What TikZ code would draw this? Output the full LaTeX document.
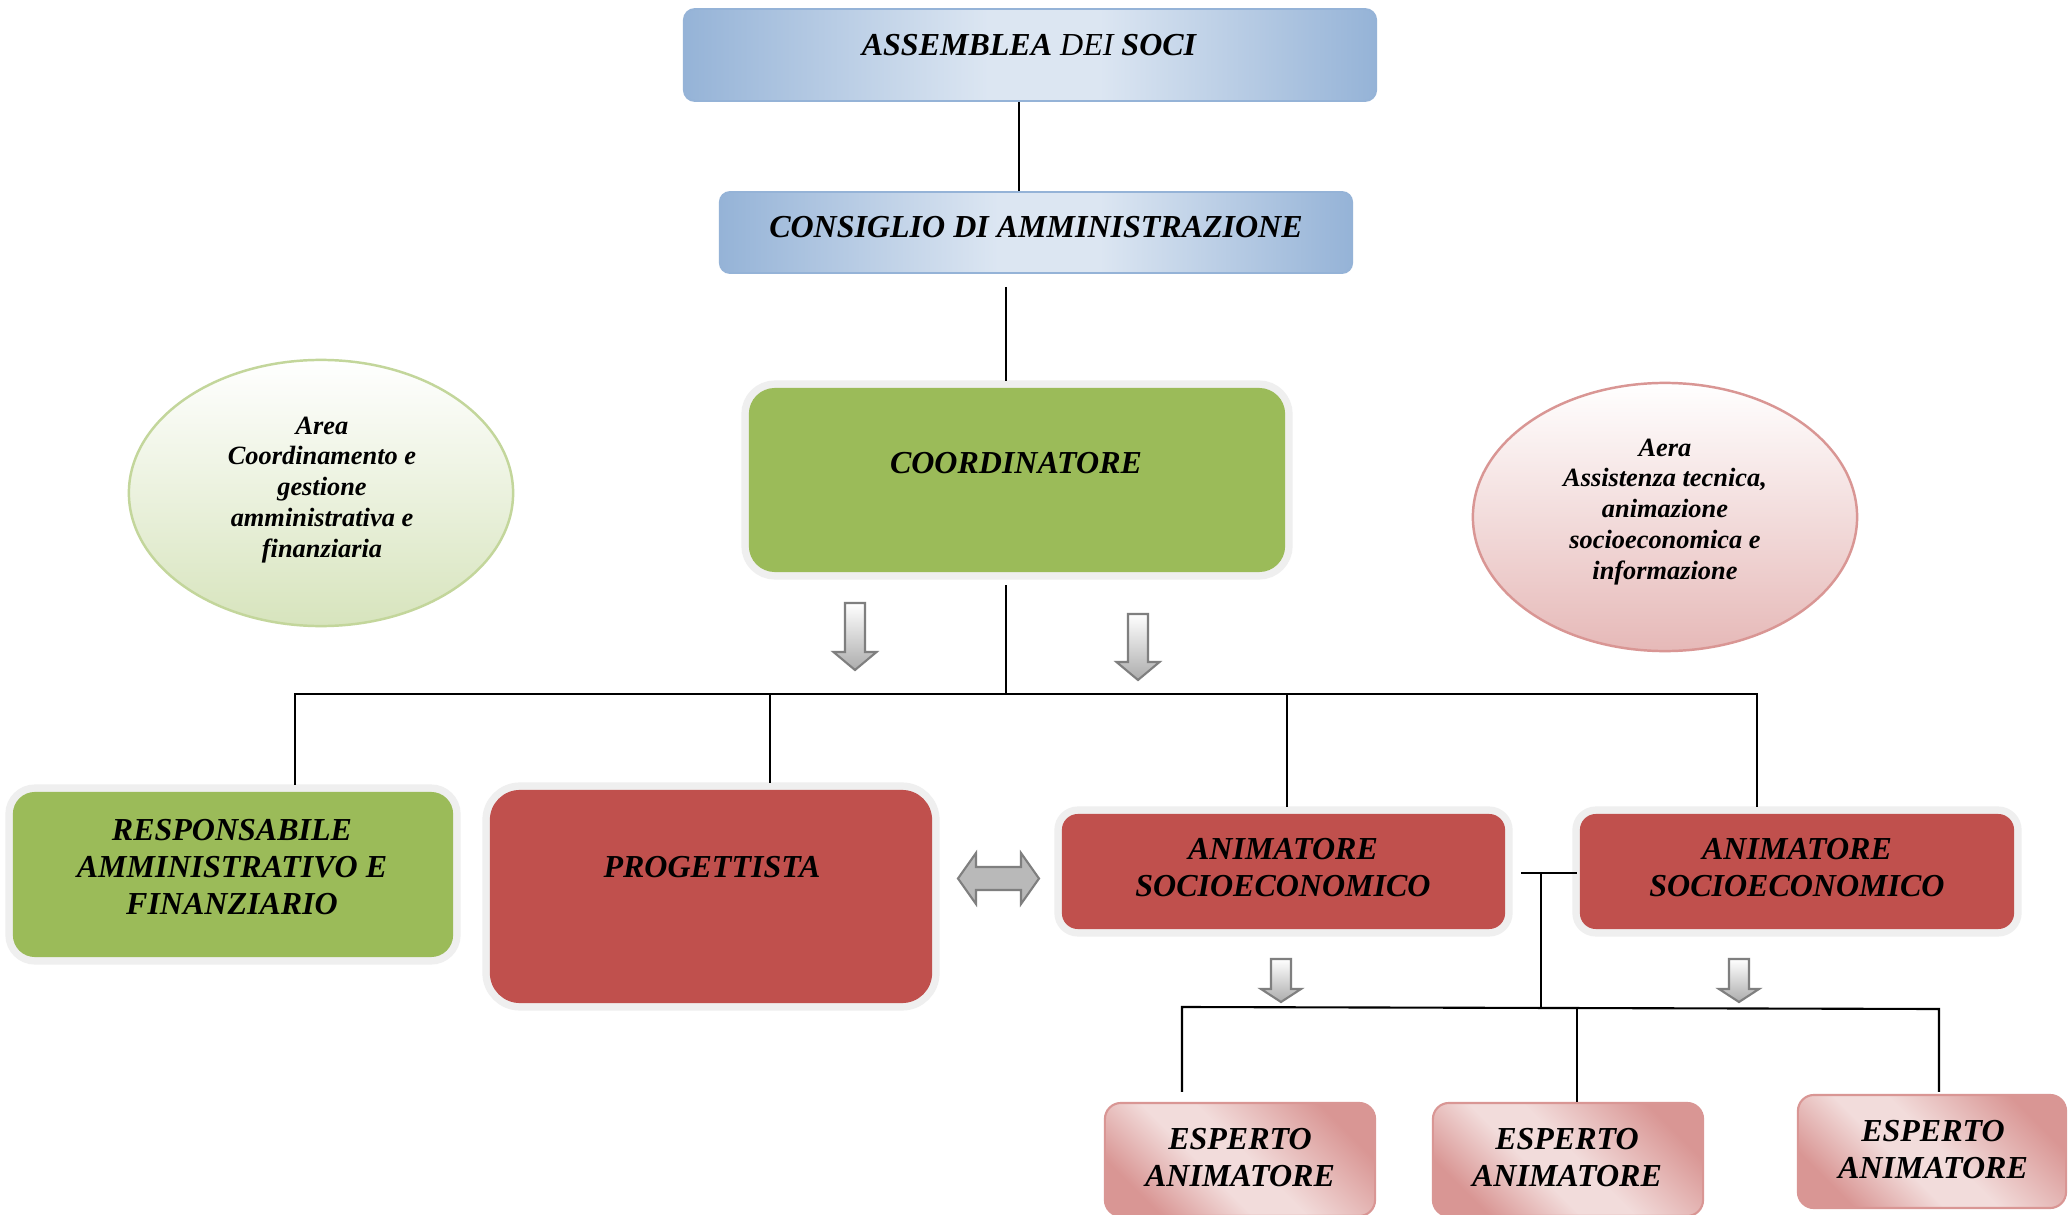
\documentclass[tikz,border=0pt]{standalone}
\usepackage{fontspec}
\setmainfont{Liberation Serif}
\usetikzlibrary{shapes.geometric,calc}
\definecolor{bluedark}{HTML}{95B3D7}
\definecolor{bluelight}{HTML}{DCE6F2}
\definecolor{ogreen}{HTML}{9BBB59}
\definecolor{ored}{HTML}{C0504D}
\definecolor{halo}{HTML}{EFEFEF}
\definecolor{pinkl}{HTML}{F2DCDB}
\definecolor{pinkd}{HTML}{D99694}
\definecolor{greenl}{HTML}{D7E4BD}
\definecolor{greenb}{HTML}{C3D69B}
\definecolor{redl}{HTML}{E6B9B8}
\definecolor{arrgray}{HTML}{7F7F7F}
\pgfdeclarehorizontalshading{blueband}{100bp}{color(0bp)=(bluedark); color(25bp)=(bluedark); color(47bp)=(bluelight); color(55bp)=(bluelight); color(75bp)=(bluedark); color(100bp)=(bluedark)}
\pgfdeclarehorizontalshading{pinkband}{100bp}{color(0bp)=(pinkd); color(25bp)=(pinkd); color(42bp)=(pinkl); color(52bp)=(pinkl); color(75bp)=(pinkd); color(100bp)=(pinkd)}
\tikzset{
  x=0.01cm, y=-0.01cm,
  boxtxt/.style={font=\fontsize{9.1pt}{10.5pt}\selectfont\bfseries\itshape, align=center, inner sep=0pt},
  elltxt/.style={font=\fontsize{7.5pt}{8.8pt}\selectfont\bfseries\itshape, align=center, inner sep=0pt},
  bluebox/.style={rectangle, inner sep=0pt, rounded corners=0.11cm, shading=blueband, shading angle=0, draw=bluedark, line width=0.5pt},
  halobox/.style={rectangle, inner sep=0pt, outer sep=0.07cm, preaction={draw=halo, line width=0.15cm}},
  greenbox/.style={halobox, fill=ogreen},
  redbox/.style={halobox, fill=ored},
  pinkbox/.style={rectangle, inner sep=0pt, rounded corners=0.16cm, shading=pinkband, shading angle=45, draw=pinkd, line width=0.6pt},
  ellbox/.style={ellipse, inner sep=0pt, line width=0.7pt},
  conn/.style={draw=black, line width=0.6pt},
  arr/.style={draw=arrgray, line width=0.6pt, top color=white, bottom color=gray!65, line join=miter},
  darr/.style={draw=arrgray, line width=0.6pt, top color=gray!55, middle color=white, bottom color=gray!55, line join=miter},
}
\newcommand\dnarrow[6]{%
  \draw[arr] (#1-#5,#2) -- (#1+#5,#2) -- (#1+#5,#3) -- (#1+#6,#3) -- (#1,#4) -- (#1-#6,#3) -- (#1-#5,#3) -- cycle;}
\begin{document}
\begin{tikzpicture}
\useasboundingbox (0,0) rectangle (2068,1215);
\fill[white] (0,0) rectangle (2068,1215);
\clip (0,0) rectangle (2068,1215);

% boxes
\node[bluebox, minimum width=6.92cm, minimum height=0.92cm] (assem) at (1030,55) {};
\node[bluebox, minimum width=6.32cm, minimum height=0.81cm, rounded corners=0.1cm] (cons) at (1036,232.5) {};
\node[greenbox, rounded corners=0.26cm, minimum width=5.36cm, minimum height=1.84cm] (coord) at (1017,480) {};
\node[greenbox, rounded corners=0.22cm, minimum width=4.40cm, minimum height=1.65cm] (resp) at (233,874.5) {};
\node[redbox, rounded corners=0.30cm, minimum width=4.42cm, minimum height=2.13cm] (prog) at (711,896.5) {};
\node[redbox, rounded corners=0.16cm, minimum width=4.43cm, minimum height=1.15cm] (an1) at (1283.5,871.5) {};
\node[redbox, rounded corners=0.16cm, minimum width=4.34cm, minimum height=1.15cm] (an2) at (1797,871.5) {};
\node[pinkbox, minimum width=2.70cm, minimum height=1.13cm] (esp1) at (1240,1159.5) {};
\node[pinkbox, minimum width=2.70cm, minimum height=1.13cm] (esp2) at (1568,1159.5) {};
\node[pinkbox, minimum width=2.68cm, minimum height=1.13cm] (esp3) at (1932,1151.5) {};

% ellipses
\node[ellbox, minimum width=3.84cm, minimum height=2.66cm, top color=white, bottom color=greenl, draw=greenb] (ellL) at (321,493) {};
\node[elltxt] (ellL-t) at (322,490) {Area\\Coordinamento e\\gestione\\amministrativa e\\finanziaria};
\node[ellbox, minimum width=3.84cm, minimum height=2.68cm, top color=white, bottom color=redl, draw=pinkd] (ellR) at (1665,517) {};
\node[elltxt] (ellR-t) at (1665,512) {Aera\\Assistenza tecnica,\\animazione\\socioeconomica e\\informazione};

% texts
\node[boxtxt] (assem-t) at (1029,45) {ASSEMBLEA {\mdseries DEI} SOCI};
\node[boxtxt] (cons-t) at (1036,227) {CONSIGLIO DI AMMINISTRAZIONE};
\node[boxtxt] (coord-t) at (1016,463) {COORDINATORE};
\node[boxtxt] (resp-t) at (232,867) {RESPONSABILE\\AMMINISTRATIVO E\\FINANZIARIO};
\node[boxtxt] (prog-t) at (712,867) {PROGETTISTA};
\node[boxtxt] (an1-t) at (1283,868) {ANIMATORE\\SOCIOECONOMICO};
\node[boxtxt] (an2-t) at (1797,868) {ANIMATORE\\SOCIOECONOMICO};
\node[boxtxt] (esp1-t) at (1240,1158) {ESPERTO\\ANIMATORE};
\node[boxtxt] (esp2-t) at (1567,1158) {ESPERTO\\ANIMATORE};
\node[boxtxt] (esp3-t) at (1933,1150) {ESPERTO\\ANIMATORE};

% connector coordinates
\coordinate (v1) at (1019,0);
\coordinate (jc) at (1006,694);
\coordinate (bL) at (295,694);
\coordinate (d2) at (770,694);
\coordinate (d3) at (1287,694);
\coordinate (bR) at (1757,694);
\coordinate (bkL) at (1521,873);
\coordinate (bkR) at (1577,873);
\coordinate (bkM) at (1541,873);
\coordinate (lbL) at (1182,1007);
\coordinate (lbM) at (1541,1008);
\coordinate (lbC) at (1577,1008);
\coordinate (lbR) at (1939,1009);

% connectors
\draw[conn] (assem.south -| v1) -- (cons.north -| v1);
\draw[conn] ($(cons.south -| jc)+(0,13)$) -- (coord.north -| jc);
\draw[conn] ($(coord.south -| jc)+(0,6)$) -- (jc);
\draw[conn] (resp.north -| bL) -- (bL) -- (bR) -- (an2.north -| bR);
\draw[conn] (prog.north -| d2) -- (d2);
\draw[conn] (an1.north -| d3) -- (d3);
\draw[conn] (bkL) -- (bkR);
\draw[conn] (bkM) -- (lbM);
\draw[conn] ($(esp1.north -| lbL)+(0,-10)$) -- (lbL) -- (lbR) -- ($(esp3.north -| lbR)+(0,-2)$);
\draw[conn] (esp2.north -| lbC) -- (lbC);

% block arrows
\dnarrow{855}{603}{652}{670}{10}{21.5}
\dnarrow{1138}{614}{662}{680}{10}{21.5}
\dnarrow{1281}{959}{989}{1002}{10}{20}
\dnarrow{1739}{959}{989}{1002}{10}{20}
\draw[darr] (958,878.5) -- (976,853) -- (976,867) -- (1021,867) -- (1021,853) -- (1039,878.5) -- (1021,904) -- (1021,890) -- (976,890) -- (976,904) -- cycle;
\end{tikzpicture}
\end{document}
